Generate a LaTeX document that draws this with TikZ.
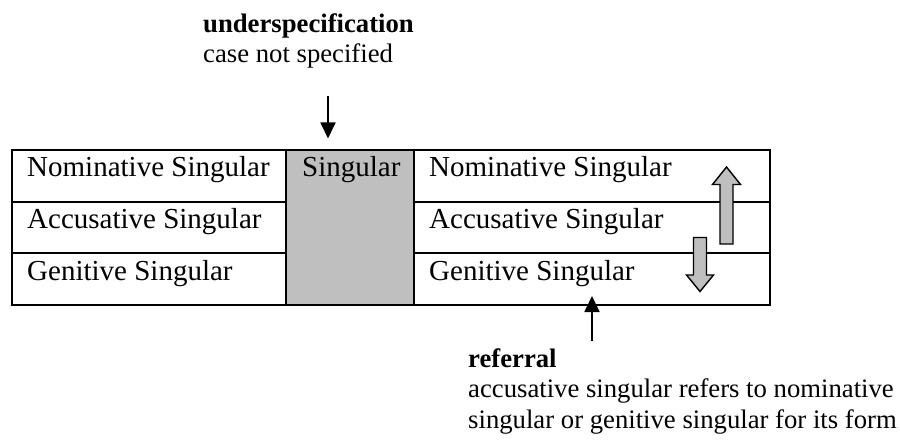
\documentclass[tikz,border=0pt]{standalone}
\usepackage{fontspec}
\setmainfont{Liberation Serif}
\usetikzlibrary{arrows.meta}
\begin{document}
\begin{tikzpicture}[x=1pt,y=-1pt,
  celltext/.style={inner sep=0pt,anchor=base west,font=\fontsize{29}{34}\selectfont},
  notetext/.style={inner sep=0pt,anchor=base west,font=\fontsize{26.7}{30.5}\selectfont},
  tableline/.style={line width=2.2pt},
  pointer/.style={line width=1.8pt,-{Triangle[length=16pt,width=15pt]}},
  blockarrow/.style={draw=black,line width=1.4pt,fill=gray!50!white,line join=miter}]
\useasboundingbox (0,0) rectangle (900,441);
% gray column
\fill[gray!50!white] (286,150) rectangle (414,305);
% table lines
\draw[tableline] (12,150) rectangle (770,305);
\draw[tableline] (286,150) -- (286,305);
\draw[tableline] (414,150) -- (414,305);
\draw[tableline] (12,202) -- (286,202);
\draw[tableline] (12,253) -- (286,253);
\draw[tableline] (414,202) -- (770,202);
\draw[tableline] (414,253) -- (770,253);
% cell texts
\node[celltext] (nom1) at (27,176.7) {Nominative Singular};
\node[celltext] (acc1) at (27,228.3) {Accusative Singular};
\node[celltext] (gen1) at (27,280) {Genitive Singular};
\node[celltext] (sing) at (302,176.7) {Singular};
\node[celltext] (nom2) at (429,176.7) {Nominative Singular};
\node[celltext] (acc2) at (429,228.3) {Accusative Singular};
\node[celltext] (gen2) at (429,280) {Genitive Singular};
% block arrows
\draw[blockarrow] (720,244) -- (720,184.5) -- (712.5,184.5) -- (726.5,167) -- (740.5,184.5) -- (733,184.5) -- (733,244) -- cycle;
\draw[blockarrow] (693.5,237.5) -- (693.5,275) -- (686.5,275) -- (700,291.5) -- (713.5,275) -- (706.5,275) -- (706.5,237.5) -- cycle;
% annotations
\node[notetext] (under) at (203,33) {\textbf{underspecification}};
\node[notetext] (underdesc) at (203,63) {case not specified};
\node[notetext] (ref) at (468,367) {\textbf{referral}};
\node[notetext] (refdesc1) at (468,397.5) {accusative singular refers to nominative};
\node[notetext] (refdesc2) at (468,428) {singular or genitive singular for its form};
% pointers
\coordinate (utop) at (328,96);
\coordinate (utip) at (328,138.5);
\coordinate (rbot) at (592,341);
\coordinate (rtip) at (592,296);
\draw[pointer] (utop) -- (utip);
\draw[pointer] (rbot) -- (rtip);
\end{tikzpicture}
\end{document}
